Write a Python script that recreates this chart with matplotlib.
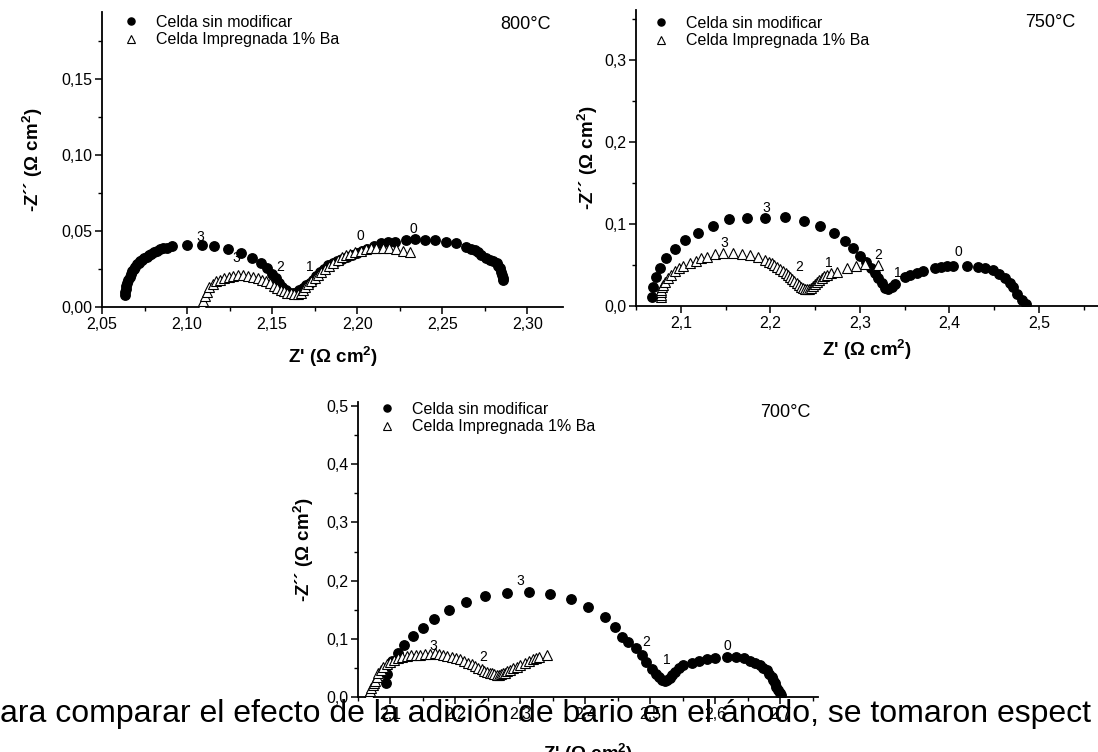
"""
Espectros de impedancia (Nyquist) de la celda sin modificar y de la celda
impregnada con 1% Ba a 800, 750 y 700 °C.
"""
import matplotlib
matplotlib.use("Agg")
import matplotlib.pyplot as plt
from matplotlib.ticker import MultipleLocator, AutoMinorLocator, FuncFormatter

plt.rcParams["font.family"] = ["Liberation Sans", "DejaVu Sans"]
plt.rcParams["mathtext.fontset"] = "custom"
plt.rcParams["mathtext.rm"] = "Liberation Sans"
plt.rcParams["mathtext.bf"] = "Liberation Sans:bold"

# --- 800 °C ---------------------------------------------------------------
zre_800_sin = [2.0635, 2.0637, 2.0640, 2.0644, 2.0649, 2.0655, 2.0662, 2.0670, 2.0678,
               2.0686, 2.0695, 2.0705, 2.0715, 2.0726, 2.0737, 2.0749, 2.0762, 2.0776,
               2.0790, 2.0805, 2.0822, 2.0840, 2.0860, 2.0885, 2.0910,
               2.100, 2.109, 2.116, 2.124, 2.132, 2.138, 2.1435, 2.147, 2.150, 2.1525,
               2.154, 2.156, 2.158, 2.160, 2.162, 2.164, 2.166, 2.168, 2.170, 2.172,
               2.174, 2.176, 2.178, 2.1805, 2.183, 2.1855, 2.188, 2.191, 2.194, 2.197,
               2.200, 2.203, 2.206, 2.210, 2.214, 2.218, 2.222, 2.229, 2.234, 2.240,
               2.246, 2.252, 2.258, 2.264, 2.267, 2.269, 2.271, 2.273, 2.2755, 2.278,
               2.280, 2.282, 2.283, 2.284, 2.2845, 2.285, 2.2855, 2.286]
zim_800_sin = [0.008, 0.010, 0.012, 0.014, 0.016, 0.018, 0.020, 0.022, 0.0235,
               0.025, 0.0265, 0.028, 0.029, 0.030, 0.031, 0.032, 0.033, 0.034,
               0.035, 0.036, 0.037, 0.038, 0.0385, 0.039, 0.040,
               0.041, 0.041, 0.040, 0.038, 0.0355, 0.032, 0.029, 0.0257, 0.022, 0.019,
               0.016, 0.013, 0.011, 0.0095, 0.009, 0.0095, 0.011, 0.0125, 0.0145, 0.016,
               0.018, 0.0205, 0.023, 0.025, 0.0275, 0.029, 0.030, 0.0315, 0.033, 0.0345,
               0.0355, 0.037, 0.038, 0.040, 0.042, 0.0428, 0.043, 0.044, 0.0447, 0.044,
               0.044, 0.043, 0.042, 0.0395, 0.038, 0.0375, 0.036, 0.034, 0.0325, 0.031,
               0.030, 0.029, 0.027, 0.0255, 0.023, 0.021, 0.019, 0.018]

zre_800_ba = [2.1085, 2.1095, 2.1105, 2.1115, 2.113, 2.115, 2.117, 2.1195, 2.122, 2.1245,
              2.127, 2.130, 2.133, 2.136, 2.139, 2.1415, 2.144, 2.1465, 2.149, 2.151,
              2.153, 2.155, 2.157, 2.159, 2.161, 2.163, 2.165, 2.167, 2.168, 2.1695,
              2.171, 2.173, 2.175, 2.177, 2.179, 2.181, 2.1835, 2.186, 2.1885, 2.191,
              2.1935, 2.196, 2.199, 2.202, 2.205, 2.208, 2.211, 2.215, 2.219, 2.223,
              2.227, 2.231]
zim_800_ba = [0.001, 0.004, 0.007, 0.010, 0.013, 0.015, 0.017, 0.018, 0.019, 0.020,
              0.0205, 0.021, 0.021, 0.0205, 0.020, 0.019, 0.018, 0.017, 0.0155, 0.014,
              0.0125, 0.011, 0.0105, 0.0095, 0.009, 0.0085, 0.0085, 0.009, 0.011, 0.013,
              0.015, 0.017, 0.019, 0.021, 0.023, 0.025, 0.027, 0.029, 0.031, 0.033,
              0.034, 0.035, 0.036, 0.037, 0.038, 0.0385, 0.039, 0.039, 0.039, 0.038,
              0.037, 0.036]

# --- 750 °C ---------------------------------------------------------------
zre_750_sin = [2.068, 2.069, 2.072, 2.0765, 2.084, 2.093, 2.1045, 2.119, 2.136, 2.154,
               2.174, 2.194, 2.216, 2.2375, 2.2555, 2.271, 2.283, 2.292, 2.300, 2.307,
               2.312, 2.3165, 2.320, 2.3245, 2.328, 2.331, 2.3357, 2.339, 2.350, 2.356,
               2.364, 2.370, 2.384, 2.3905, 2.397, 2.404, 2.4196, 2.432, 2.440, 2.4486,
               2.4555, 2.462, 2.4676, 2.471, 2.4754, 2.481, 2.4855]
zim_750_sin = [0.011, 0.023, 0.035, 0.046, 0.058, 0.070, 0.080, 0.089, 0.0976, 0.106,
               0.107, 0.107, 0.108, 0.104, 0.0976, 0.089, 0.079, 0.0707, 0.061, 0.054,
               0.046, 0.040, 0.034, 0.028, 0.022, 0.0207, 0.023, 0.027, 0.0354, 0.038,
               0.0405, 0.043, 0.0465, 0.048, 0.049, 0.049, 0.049, 0.048, 0.0466, 0.044,
               0.039, 0.034, 0.028, 0.023, 0.0146, 0.0073, 0.002]

zre_750_ba = [2.0780, 2.0778, 2.0777, 2.0780, 2.0790, 2.0800, 2.0825, 2.0855, 2.089,
              2.093, 2.098, 2.103, 2.110, 2.117, 2.123, 2.129, 2.138, 2.147, 2.158,
              2.168, 2.177, 2.186, 2.194, 2.198, 2.2017, 2.2045, 2.207, 2.2105, 2.214,
              2.217, 2.2195, 2.222, 2.224, 2.227, 2.2296, 2.232, 2.234, 2.2363, 2.2386,
              2.241, 2.243, 2.2453, 2.2475, 2.250, 2.252, 2.2548, 2.2575, 2.260, 2.263,
              2.268, 2.274, 2.2855, 2.2955, 2.3056, 2.320]
zim_750_ba = [0.011, 0.014, 0.017, 0.020, 0.023, 0.026, 0.029, 0.034, 0.038,
              0.043, 0.046, 0.049, 0.052, 0.055, 0.058, 0.060, 0.0635, 0.065, 0.065,
              0.064, 0.062, 0.0597, 0.056, 0.054, 0.052, 0.050, 0.048, 0.0455, 0.043,
              0.0405, 0.038, 0.0355, 0.033, 0.0305, 0.028, 0.0255, 0.023, 0.022, 0.021,
              0.021, 0.021, 0.022, 0.0244, 0.0265, 0.029, 0.0315, 0.034, 0.036, 0.038,
              0.040, 0.0415, 0.046, 0.0488, 0.051, 0.050]

# --- 700 °C ---------------------------------------------------------------
zre_700_sin = [2.093, 2.095, 2.102, 2.111, 2.121, 2.134, 2.1495, 2.1674, 2.190, 2.216,
               2.246, 2.2787, 2.3126, 2.3454, 2.3777, 2.4044, 2.430, 2.4454, 2.457,
               2.4658, 2.4778, 2.4865, 2.494, 2.5018, 2.508, 2.513, 2.518, 2.522, 2.526,
               2.530, 2.534, 2.538, 2.544, 2.5505, 2.5634, 2.5751, 2.5864, 2.5992, 2.6172,
               2.6315, 2.6438, 2.6531, 2.661, 2.6685, 2.674, 2.6788, 2.683, 2.6865, 2.689,
               2.6915, 2.694, 2.6966, 2.699, 2.7018]
zim_700_sin = [0.0246, 0.040, 0.062, 0.076, 0.0893, 0.1048, 0.118, 0.1346, 0.1495, 0.1627,
               0.1735, 0.179, 0.180, 0.177, 0.168, 0.155, 0.137, 0.121, 0.1036,
               0.095, 0.0836, 0.072, 0.0607, 0.048, 0.040, 0.034, 0.030, 0.028, 0.029,
               0.032, 0.037, 0.043, 0.049, 0.055, 0.059, 0.062, 0.0647, 0.0665, 0.0693,
               0.068, 0.0665, 0.0624, 0.059, 0.055, 0.050, 0.046, 0.040, 0.035, 0.029,
               0.0235, 0.018, 0.012, 0.007, 0.0034]

zre_700_ba = [2.0643, 2.0665, 2.0685, 2.0705, 2.0726, 2.0745, 2.0762, 2.079, 2.0812, 2.085,
              2.089, 2.094, 2.0992, 2.105, 2.112, 2.118, 2.125, 2.132, 2.1388, 2.146,
              2.153, 2.161, 2.1685, 2.175, 2.1812, 2.1875, 2.1941, 2.2005, 2.2069, 2.213,
              2.2197, 2.225, 2.230, 2.235, 2.2403, 2.2445, 2.2489, 2.2525, 2.2557, 2.2595,
              2.2634, 2.2665, 2.2695, 2.273, 2.2762, 2.280, 2.2838, 2.289, 2.2941, 2.300,
              2.3069, 2.3125, 2.3188, 2.324, 2.329, 2.3403]
zim_700_ba = [0.0005, 0.006, 0.011, 0.0155, 0.020, 0.024, 0.0275, 0.034, 0.0407, 0.047,
              0.052, 0.057, 0.0607, 0.064, 0.0665, 0.0685, 0.0704, 0.0715, 0.0722, 0.073,
              0.0739, 0.0745, 0.075, 0.0736, 0.0722, 0.071, 0.0693, 0.067, 0.0647, 0.062,
              0.059, 0.056, 0.053, 0.050, 0.0476, 0.0455, 0.0435, 0.042, 0.0407, 0.039,
              0.0378, 0.0385, 0.0395, 0.0405, 0.0418, 0.044, 0.0464, 0.049, 0.052, 0.0555,
              0.059, 0.062, 0.0647, 0.067, 0.0693, 0.0722]

# Frecuencia (log f) marcada sobre cada curva: (texto, Z', -Z'')
marcas_800 = [("3", 2.108, 0.046), ("3", 2.129, 0.032), ("2", 2.155, 0.026),
              ("1", 2.172, 0.026), ("0", 2.202, 0.047), ("0", 2.233, 0.051)]
marcas_750 = [("3", 2.195, 0.119), ("3", 2.149, 0.077), ("2", 2.232, 0.048),
              ("1", 2.265, 0.052), ("2", 2.320, 0.062), ("1", 2.342, 0.040),
              ("0", 2.4095, 0.066)]
marcas_700 = [("3", 2.300, 0.199), ("3", 2.166, 0.088), ("2", 2.242, 0.069),
              ("2", 2.494, 0.095), ("1", 2.526, 0.064), ("0", 2.618, 0.088)]

etiqueta_sin = "Celda sin modificar"
etiqueta_ba = "Celda Impregnada 1% Ba"

W, H = 1098, 752


def coma(decimales):
    return FuncFormatter(lambda v, pos: f"{v:.{decimales}f}".replace(".", ","))


def panel(fig, caja, xlim, ylim, paso_x, paso_y, dec_x, dec_y,
          zre_sin, zim_sin, zre_ba, zim_ba, marcas, temp, temp_xy, leg_xy,
          ypad, xpad):
    left, top, right, bottom = caja
    ax = fig.add_axes([left / W, (H - bottom) / H, (right - left) / W, (bottom - top) / H])
    ax.plot(zre_sin, zim_sin, "o", ms=6.8, color="black", ls="none",
            label=etiqueta_sin, zorder=3)
    ax.plot(zre_ba, zim_ba, "^", ms=7.2, mfc="white", mec="black", mew=0.8,
            ls="none", label=etiqueta_ba, zorder=4)
    for txt, x, y in marcas:
        ax.text(x, y, txt, fontsize=10, ha="center", va="center", zorder=5)

    ax.set_xlim(*xlim)
    ax.set_ylim(*ylim)
    ax.xaxis.set_major_locator(MultipleLocator(paso_x))
    ax.yaxis.set_major_locator(MultipleLocator(paso_y))
    ax.xaxis.set_minor_locator(AutoMinorLocator(2))
    ax.yaxis.set_minor_locator(AutoMinorLocator(2))
    ax.xaxis.set_major_formatter(coma(dec_x))
    ax.yaxis.set_major_formatter(coma(dec_y))
    ax.tick_params(which="major", direction="out", length=5, width=1.1, labelsize=11.5, pad=2)
    ax.tick_params(which="minor", direction="out", length=3, width=1.0)
    for s in ("top", "right"):
        ax.spines[s].set_visible(False)
    for s in ("left", "bottom"):
        ax.spines[s].set_linewidth(1.3)
    ax.patch.set_alpha(0)

    ax.set_xlabel(r"Z' (Ω cm$^{\mathbf{2}}$)", fontsize=13.5, fontweight="bold", labelpad=xpad)
    ax.set_ylabel(r"-Z´´ (Ω cm$^{\mathbf{2}}$)", fontsize=13.5, fontweight="bold", labelpad=ypad)

    ax.legend(loc="upper left", bbox_to_anchor=leg_xy, frameon=False, fontsize=11.5,
              handlelength=1.0, handletextpad=1.1, labelspacing=0.15,
              borderpad=0, borderaxespad=0, markerscale=0.75)
    ax.text(*temp_xy, temp, transform=ax.transAxes, fontsize=13, ha="center", va="center")
    return ax


def main():
    fig = plt.figure(figsize=(W / 100, H / 100), dpi=100)

    panel(fig, (102, 12, 563, 307), (2.05, 2.321), (0, 0.194), 0.05, 0.05, 2, 2,
          zre_800_sin, zim_800_sin, zre_800_ba, zim_800_ba, marcas_800,
          "800°C", (0.919, 0.956), (0.045, 0.99), ypad=12, xpad=9)
    panel(fig, (636, 10, 1098, 306), (2.05, 2.566), (0, 0.361), 0.1, 0.1, 1, 1,
          zre_750_sin, zim_750_sin, zre_750_ba, zim_750_ba, marcas_750,
          "750°C", (0.896, 0.959), (0.036, 0.98), ypad=3, xpad=5)
    panel(fig, (358, 402, 818, 697), (2.05, 2.758), (0, 0.507), 0.1, 0.1, 1, 1,
          zre_700_sin, zim_700_sin, zre_700_ba, zim_700_ba, marcas_700,
          "700°C", (0.930, 0.966), (0.045, 1.0), ypad=7, xpad=14)

    # línea del texto del documento que queda por encima de la figura
    fig.text(0.0, (H - 722) / H,
             "ara comparar el efecto de la adición de bario en el ánodo, se tomaron espect",
             fontsize=23.0, ha="left", va="baseline", zorder=10)

    fig.savefig("out.png", dpi=100)
    plt.close(fig)


if __name__ == "__main__":
    main()
